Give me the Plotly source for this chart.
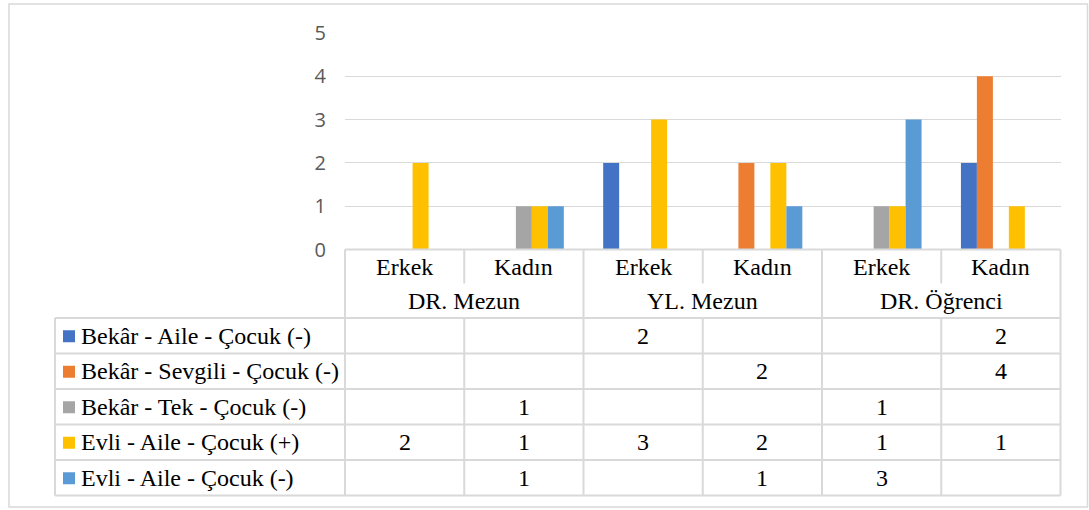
import plotly.graph_objects as go

W, H = 1089, 510

groups = ["DR. Mezun", "YL. Mezun", "DR. Öğrenci"]
categories = ["DR. Mezun|Erkek", "DR. Mezun|Kadın", "YL. Mezun|Erkek",
              "YL. Mezun|Kadın", "DR. Öğrenci|Erkek", "DR. Öğrenci|Kadın"]
series_names = ["Bekâr - Aile - Çocuk (-)", "Bekâr - Sevgili - Çocuk (-)",
                "Bekâr - Tek - Çocuk (-)", "Evli - Aile - Çocuk (+)",
                "Evli - Aile - Çocuk (-)"]
bekar_aile = [None, None, 2, None, None, 2]
bekar_sevgili = [None, None, None, 2, None, 4]
bekar_tek = [None, 1, None, None, 1, None]
evli_aile_arti = [2, 1, 3, 2, 1, 1]
evli_aile_eksi = [None, 1, None, 1, 3, None]
series_values = [bekar_aile, bekar_sevgili, bekar_tek, evli_aile_arti, evli_aile_eksi]
colors = ["#4472C4", "#ED7D31", "#A5A5A5", "#FFC000", "#5B9BD5"]
y_ticks = [0, 1, 2, 3, 4, 5]

# layout in pixels
PX0, PX1 = 345, 1060.5
PY_TOP, PY_BOT = 33, 249.5
LEG_X = 55
row_lines = [318, 353.5, 389, 424.5, 460, 495.5]
ROW1_BOT = 283.5
SERIF = "Liberation Serif, Times New Roman, serif"
FS = 24

def px(x):
    return x / W

def py(y):
    return 1 - y / H

fig = go.Figure()
for name, vals, col in zip(series_names, series_values, colors):
    fig.add_trace(go.Bar(x=categories, y=vals, name=name, marker_color=col,
                         marker_line_width=0, showlegend=False))

fig.update_layout(
    template="none",
    width=W, height=H, margin=dict(l=0, r=0, t=0, b=0, pad=0, autoexpand=False),
    paper_bgcolor="white", plot_bgcolor="white",
    barmode="group", bargap=0.33, bargroupgap=0, showlegend=False,
    xaxis=dict(domain=[px(PX0), px(PX1)], showticklabels=False, showgrid=False,
               zeroline=False, showline=False, fixedrange=True, automargin=False,
               ticks=""),
    yaxis=dict(domain=[py(PY_BOT), py(PY_TOP)], range=[0, 5], tickvals=y_ticks,
               showgrid=True, gridcolor="#D9D9D9", gridwidth=1.3, zeroline=False,
               showline=False, ticks="", ticklabelstandoff=18, automargin=False,
               fixedrange=True,
               tickfont=dict(family="Open Sans", size=20, color="#595959")),
    font=dict(family=SERIF, size=FS, color="black"),
)

shapes = []
LC = "#D9D9D9"
LW = 2

def hline(y, x0, x1):
    shapes.append(dict(type="line", xref="paper", yref="paper", x0=px(x0), x1=px(x1),
                       y0=py(y), y1=py(y), line=dict(color=LC, width=LW)))

def vline(x, y0, y1):
    shapes.append(dict(type="line", xref="paper", yref="paper", x0=px(x), x1=px(x),
                       y0=py(y0), y1=py(y1), line=dict(color=LC, width=LW)))

# outer border
shapes.append(dict(type="rect", xref="paper", yref="paper", x0=px(9), x1=px(1087.5),
                   y0=py(507), y1=py(4), line=dict(color=LC, width=1.5)))

ncol = len(categories)
cw = (PX1 - PX0) / ncol
col_x = [PX0 + i * cw for i in range(ncol + 1)]

hline(PY_BOT, PX0, PX1)
for y in row_lines:
    hline(y, LEG_X, PX1)
vline(LEG_X, row_lines[0], row_lines[-1])
for i, x in enumerate(col_x):
    if i % 2 == 0:
        vline(x, PY_BOT, row_lines[-1])
    else:
        vline(x, PY_BOT, ROW1_BOT)
        vline(x, row_lines[0], row_lines[-1])

annotations = []
for i, cat in enumerate(categories):
    annotations.append(dict(x=cat, xref="x", y=py((PY_BOT + ROW1_BOT) / 2), yref="paper",
                            text=cat.split("|")[1], showarrow=False,
                            xanchor="center", yanchor="middle"))
for g_i, g in enumerate(groups):
    cx = (col_x[2 * g_i] + col_x[2 * g_i + 2]) / 2
    annotations.append(dict(x=px(cx), xref="paper", y=py((ROW1_BOT + row_lines[0]) / 2),
                            yref="paper", text=g, showarrow=False,
                            xanchor="center", yanchor="middle"))
for r, (name, vals, col) in enumerate(zip(series_names, series_values, colors)):
    yc = (row_lines[r] + row_lines[r + 1]) / 2
    shapes.append(dict(type="rect", xref="paper", yref="paper", x0=px(63), x1=px(75),
                       y0=py(yc + 6.5), y1=py(yc - 5.5), fillcolor=col,
                       line=dict(width=0)))
    annotations.append(dict(x=px(79), xref="paper", y=py(yc), yref="paper", text=name,
                            showarrow=False, xanchor="left", yanchor="middle"))
    for cat, v in zip(categories, vals):
        if v is not None:
            annotations.append(dict(x=cat, xref="x", y=py(yc), yref="paper", text=str(v),
                                    showarrow=False, xanchor="center", yanchor="middle"))

fig.update_layout(shapes=shapes, annotations=annotations)
fig.write_html("out.html", config={"displayModeBar": False},
               post_script="document.body.style.margin='0px';")
